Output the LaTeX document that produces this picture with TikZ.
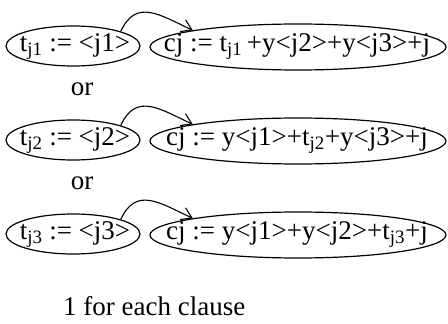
\documentclass[tikz,border=0pt]{standalone}
\usepackage{fontspec}
\setmainfont{Liberation Serif}
\usetikzlibrary{shapes.geometric,arrows.meta}
\begin{document}
\begin{tikzpicture}[x=1pt,y=-1pt,
  every node/.style={font=\fontsize{27}{31}\selectfont, inner sep=0pt},
  tbox/.style={ellipse, draw, line width=1.2pt, minimum width=134pt, minimum height=40pt},
  cbox/.style={ellipse, draw, line width=1.2pt, minimum width=296pt, minimum height=46pt},
  link/.style={line width=1.1pt, -{Straight Barb[length=10pt,width=13pt,line width=1.1pt]}, looseness=1.3},
  plain/.style={}
]
\useasboundingbox (0,0) rectangle (448,324);
% row 1
\node[tbox] (t1) at (73,46) {};
\node[plain] (t1l) at (75,47) {$\mathrm{t}_{\mathrm{j1}}$ := <j1>};
\node[cbox] (c1) at (298,47) {};
\node[plain] (c1l) at (297,47) {cj := $\mathrm{t}_{\mathrm{j1}}$\,+y<j2>+y<j3>+j};
\draw[link] (t1.17) to[out=65,in=155] (c1.171);
\node[plain] (or1) at (82,89) {or};
% row 2
\node[tbox] (t2) at (73,140) {};
\node[plain] (t2l) at (75,141) {$\mathrm{t}_{\mathrm{j2}}$ := <j2>};
\node[cbox] (c2) at (298,141) {};
\node[plain] (c2l) at (297,141) {cj := y<j1>+$\mathrm{t}_{\mathrm{j2}}$+y<j3>+j};
\draw[link] (t2.17) to[out=65,in=155] (c2.171);
\node[plain] (or2) at (82,183) {or};
% row 3
\node[tbox] (t3) at (73,234) {};
\node[plain] (t3l) at (75,235) {$\mathrm{t}_{\mathrm{j3}}$ := <j3>};
\node[cbox] (c3) at (298,235) {};
\node[plain] (c3l) at (297,235) {cj := y<j1>+y<j2>+$\mathrm{t}_{\mathrm{j3}}$+j};
\draw[link] (t3.17) to[out=65,in=155] (c3.171);
% footer
\node[plain, anchor=west] (foot) at (63,306) {1 for each clause};
\end{tikzpicture}
\end{document}
